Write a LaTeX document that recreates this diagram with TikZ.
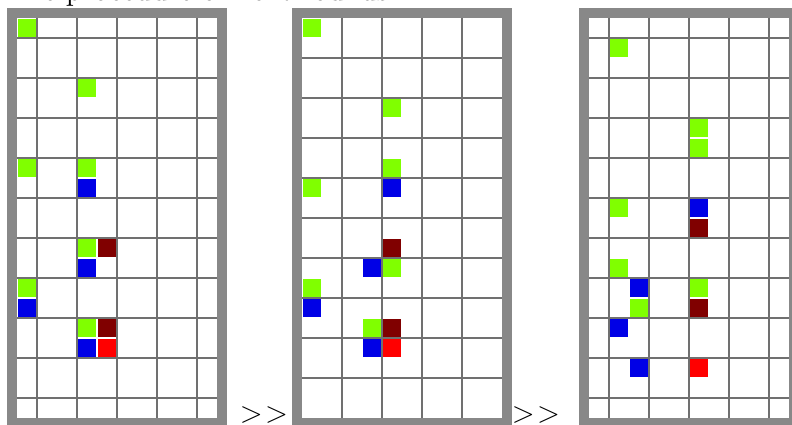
\documentclass[tikz,border=0pt]{standalone}
\usetikzlibrary{positioning}
\definecolor{frameGray}{RGB}{136,136,136}
\definecolor{lineGray}{RGB}{112,112,112}
\definecolor{greenSq}{RGB}{128,255,0}
\definecolor{blueSq}{RGB}{0,0,230}
\definecolor{maroonSq}{RGB}{128,0,0}
\definecolor{redSq}{RGB}{255,0,0}
\tikzset{frame/.style={draw=frameGray,line width=4pt,fill=white},gridline/.style={draw=lineGray,line width=0.8pt},txt/.style={inner sep=0pt,font=\fontsize{12}{14}\selectfont}}

\begin{document}
\begin{tikzpicture}[x=0.4pt,y=-0.4pt]
\useasboundingbox (0,0) rectangle (792,425);
\node[txt, anchor=base west] (title) at (5,1) {The procedure of next rounds};
% first state
\begin{scope}[shift={(17,18)}]
\draw[frame] (-5,-5) rectangle (205,405);
\foreach \x in {20,60,...,180} \draw[gridline] (\x,0) -- (\x,400);
\foreach \y in {20,60,...,380} \draw[gridline] (0,\y) -- (200,\y);
\foreach \c/\r/\clr in {0/0/greenSq,3/3/greenSq,0/7/greenSq,3/7/greenSq,3/8/blueSq,3/11/greenSq,4/11/maroonSq,3/12/blueSq,0/13/greenSq,0/14/blueSq,3/15/greenSq,4/15/maroonSq,3/16/blueSq,4/16/redSq}
  \fill[\clr] (20*\c+1,20*\r+1) rectangle ++(18,18);
\end{scope}
% second state
\begin{scope}[shift={(302,18)}]
\draw[frame] (-5,-5) rectangle (205,405);
\foreach \x in {40,80,...,160} \draw[gridline] (\x,0) -- (\x,400);
\foreach \y in {40,80,...,360} \draw[gridline] (0,\y) -- (200,\y);
\foreach \c/\r/\clr in {0/0/greenSq,4/4/greenSq,4/7/greenSq,4/8/blueSq,0/8/greenSq,4/11/maroonSq,3/12/blueSq,4/12/greenSq,0/13/greenSq,0/14/blueSq,3/15/greenSq,4/15/maroonSq,3/16/blueSq,4/16/redSq}
  \fill[\clr] (20*\c+1,20*\r+1) rectangle ++(18,18);
\end{scope}
% third state
\begin{scope}[shift={(589,18)}]
\draw[frame] (-5,-5) rectangle (205,405);
\foreach \x in {20,60,...,180} \draw[gridline] (\x,0) -- (\x,400);
\foreach \y in {20,60,...,380} \draw[gridline] (0,\y) -- (200,\y);
\foreach \c/\r/\clr in {1/1/greenSq,5/5/greenSq,5/6/greenSq,1/9/greenSq,5/9/blueSq,5/10/maroonSq,1/12/greenSq,2/13/blueSq,5/13/greenSq,2/14/greenSq,5/14/maroonSq,1/15/blueSq,2/17/blueSq,5/17/redSq}
  \fill[\clr] (20*\c+1,20*\r+1) rectangle ++(18,18);
\end{scope}
\node[txt, anchor=base] (next1) at (264,422) {>\kern1pt>};
\node[txt, anchor=base] (next2) at (536,422) {>\kern1pt>};
\end{tikzpicture}
\end{document}
